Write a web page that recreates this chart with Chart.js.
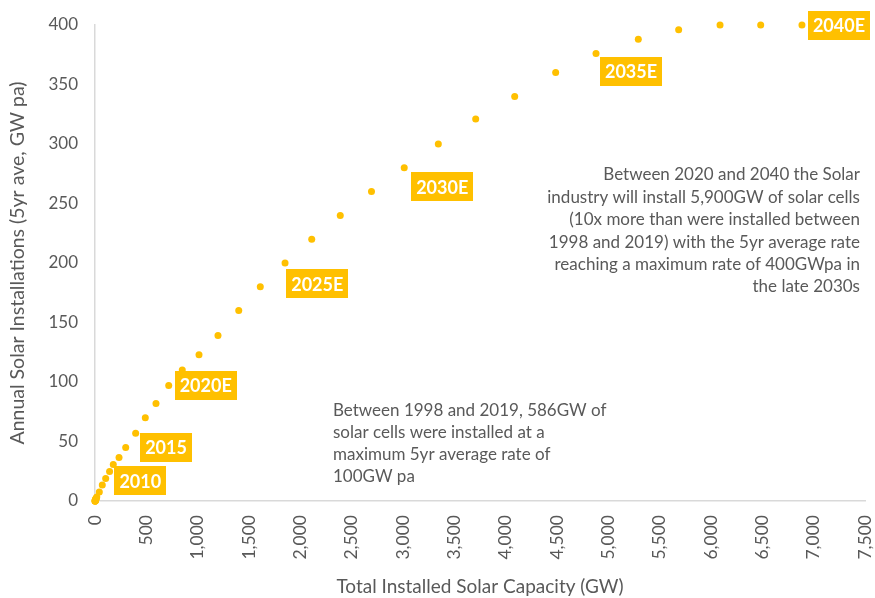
<!DOCTYPE html>
<html lang="en">
<head>
<meta charset="UTF-8">
<title>Solar Installations vs Installed Capacity</title>
<script src="https://cdn.jsdelivr.net/npm/chart.js"></script>
<style>
  html, body { margin: 0; padding: 0; background: #fff; }
  #wrap { width: 875px; height: 598px; }
</style>
</head>
<body>
<div id="wrap"><canvas id="myChart"></canvas></div>
<script>
// one point per year, 1998 .. 2040
const years = [1998, 1999, 2000, 2001, 2002, 2003, 2004, 2005, 2006, 2007, 2008,
  2009, 2010, 2011, 2012, 2013, 2014, 2015, 2016, 2017, 2018, 2019,
  2020, 2021, 2022, 2023, 2024, 2025, 2026, 2027, 2028, 2029, 2030,
  2031, 2032, 2033, 2034, 2035, 2036, 2037, 2038, 2039, 2040];

// total installed capacity (GW)
const capacity = [1, 1, 1, 2, 2, 3, 4, 5, 7, 9, 13,
  17, 42, 71, 104, 142, 178, 234, 299, 396, 490, 594,
  718, 850, 1013, 1198, 1400, 1610, 1851, 2111, 2389, 2693, 3012,
  3344, 3708, 4088, 4487, 4880, 5292, 5685, 6088, 6484, 6886];

// annual installations, 5yr average (GW pa)
const installs = [0, 0, 0, 0, 0, 1, 1, 1, 1, 2, 2,
  3.4, 7.6, 13.5, 19, 24.7, 30.6, 36.5, 45, 57, 70, 82,
  97, 110, 123, 139, 160, 180, 200, 220, 240, 260, 280,
  300, 321, 340, 360, 376, 388, 396, 400, 400, 400];

const xTicks = [0, 500, 1000, 1500, 2000, 2500, 3000, 3500, 4000, 4500, 5000, 5500, 6000, 6500, 7000, 7500];
const yTicks = [0, 50, 100, 150, 200, 250, 300, 350, 400];

// year tags and where they sit next to their point (px offset of box centre)
const tagYears = [2010, 2015, 2020, 2025, 2030, 2035, 2040];
const tagTexts = ['2010', '2015', '2020E', '2025E', '2030E', '2035E', '2040E'];
const tagDx = [41, 47, 37, 57, 38, 35, 37];
const tagDy = [-11, -10, 0, -3, 19, 18, 0];

const noteLeft = ['Between 1998 and 2019, 586GW of',
  'solar cells were installed at a',
  'maximum 5yr average rate of',
  '100GW pa'];
const noteRight = ['Between 2020 and 2040 the Solar',
  'industry will install 5,900GW of solar cells',
  '(10x more than were installed between',
  '1998 and 2019) with the 5yr average rate',
  'reaching a maximum rate of 400GWpa in',
  'the late 2030s'];
const noteLeftAt = { x: 2318, y: 76 };
const noteRightAt = { x: 7451, y: 274 };

const gold = '#FFC000';
const grey = '#595959';
const axisGrey = '#D9D9D9';
const FONT = 'Lato, "Open Sans", sans-serif';

const points = years.map((yr, i) => ({ x: capacity[i], y: installs[i] }));

const tagsPlugin = {
  id: 'tags',
  afterDatasetsDraw(chart) {
    const ctx = chart.ctx;
    const xs = chart.scales.x, ys = chart.scales.y;
    ctx.save();

    // year boxes
    ctx.font = 'bold 18px ' + FONT;
    ctx.textAlign = 'center';
    ctx.textBaseline = 'middle';
    tagYears.forEach((yr, k) => {
      const i = years.indexOf(yr);
      const cx = xs.getPixelForValue(capacity[i]) + tagDx[k];
      const cy = ys.getPixelForValue(installs[i]) + tagDy[k];
      const w = ctx.measureText(tagTexts[k]).width + 10;
      const h = 29;
      ctx.fillStyle = gold;
      ctx.fillRect(Math.round(cx - w / 2), Math.round(cy - h / 2), Math.round(w), h);
      ctx.fillStyle = '#fff';
      ctx.fillText(tagTexts[k], cx, cy + 1);
    });

    // notes
    ctx.font = '17px ' + FONT;
    ctx.fillStyle = grey;
    ctx.textBaseline = 'middle';
    ctx.textAlign = 'left';
    let x = xs.getPixelForValue(noteLeftAt.x), y = ys.getPixelForValue(noteLeftAt.y);
    noteLeft.forEach((t, j) => ctx.fillText(t, x, y + j * 22));
    ctx.textAlign = 'right';
    x = xs.getPixelForValue(noteRightAt.x); y = ys.getPixelForValue(noteRightAt.y);
    noteRight.forEach((t, j) => ctx.fillText(t, x, y + j * 22.4));
    ctx.restore();
  }
};

const ctx = document.getElementById('myChart').getContext('2d');
new Chart(ctx, {
  type: 'scatter',
  data: {
    datasets: [{
      label: 'Solar',
      data: points,
      backgroundColor: gold,
      borderWidth: 0,
      pointRadius: 3.5,
      pointHoverRadius: 3.5,
      clip: false
    }]
  },
  options: {
    responsive: true,
    maintainAspectRatio: false,
    animation: false,
    layout: { padding: { top: 25, right: 10, left: 0, bottom: 0 } },
    plugins: { legend: { display: false }, tooltip: { enabled: false } },
    scales: {
      x: {
        type: 'linear',
        min: 0,
        max: 7500,
        afterFit(s) { s.height = 97; s.paddingLeft = 0; s.paddingRight = 0; },
        afterBuildTicks(s) { s.ticks = xTicks.map(v => ({ value: v })); },
        grid: { display: false },
        border: { display: true, color: axisGrey, width: 1.5 },
        ticks: {
          color: grey,
          font: { family: FONT, size: 17.5 },
          maxRotation: 90,
          minRotation: 90,
          padding: 6,
          callback: v => v.toLocaleString('en-US')
        },
        title: {
          display: true,
          text: 'Total Installed Solar Capacity (GW)',
          color: grey,
          font: { family: FONT, size: 19 },
          padding: { top: 0, bottom: 0 }
        }
      },
      y: {
        min: 0,
        max: 400,
        afterFit(s) { s.width = 95; },
        afterBuildTicks(s) { s.ticks = yTicks.map(v => ({ value: v })); },
        grid: { display: false },
        border: { display: true, color: axisGrey, width: 1.5 },
        ticks: {
          color: grey,
          font: { family: FONT, size: 17 },
          padding: 9
        },
        title: {
          display: true,
          text: 'Annual Solar Installations (5yr ave, GW pa)',
          color: grey,
          font: { family: FONT, size: 19.5 },
          padding: { top: 6, bottom: 0 }
        }
      }
    }
  },
  plugins: [tagsPlugin]
});
</script>
</body>
</html>
